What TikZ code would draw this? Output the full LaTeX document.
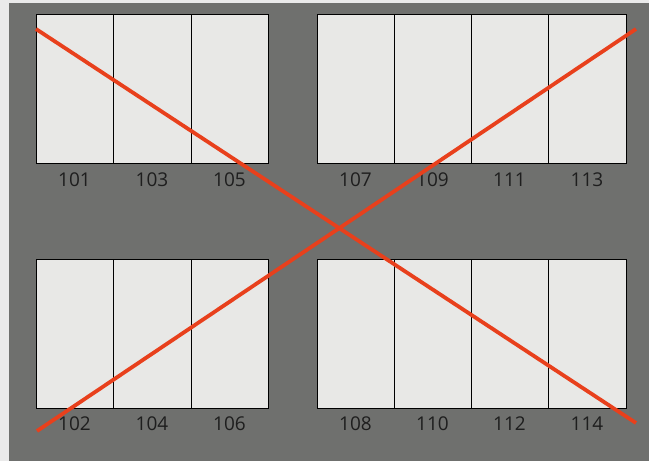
\documentclass[tikz,border=0pt]{standalone}
\usepackage{fontspec}
\setmainfont{Open Sans}
\definecolor{bgl}{HTML}{EAEAEA}
\definecolor{bgg}{HTML}{6F706E}
\definecolor{boxf}{HTML}{E8E8E6}
\definecolor{redl}{HTML}{E8401C}
\definecolor{txt}{HTML}{1E1E1E}
\tikzset{
  panel/.style={fill=boxf, draw=black, line width=0.9pt},
  divider/.style={draw=black, line width=0.9pt},
  lbl/.style={text=txt, font=\fontsize{19}{19}\selectfont, inner sep=0pt, anchor=center},
  cross/.style={draw=redl, line width=3.8pt}
}
\begin{document}
\begin{tikzpicture}[x=1pt,y=-1pt]
\useasboundingbox (0,0) rectangle (649,461);
\fill[bgl] (0,0) rectangle (649,461);
\fill[bgg] (9,3) rectangle (649,461);
% top-left
\draw[panel] (36,14) rectangle (268,163);
\draw[divider] (113,14) -- (113,163);
\draw[divider] (191,14) -- (191,163);
% top-right
\draw[panel] (317,14) rectangle (626,163);
\draw[divider] (394,14) -- (394,163);
\draw[divider] (471,14) -- (471,163);
\draw[divider] (548,14) -- (548,163);
% bottom-left
\draw[panel] (36,259) rectangle (268,408);
\draw[divider] (113,259) -- (113,408);
\draw[divider] (191,259) -- (191,408);
% bottom-right
\draw[panel] (317,259) rectangle (626,408);
\draw[divider] (394,259) -- (394,408);
\draw[divider] (471,259) -- (471,408);
\draw[divider] (548,259) -- (548,408);
% labels
\node[lbl] (l101) at (74.5,180) {101};
\node[lbl] (l103) at (152,180) {103};
\node[lbl] (l105) at (229.5,180) {105};
\node[lbl] (l107) at (355.5,180) {107};
\node[lbl] (l109) at (432.5,180) {109};
\node[lbl] (l111) at (509.5,180) {111};
\node[lbl] (l113) at (587,180) {113};
\node[lbl] (l102) at (74.5,424) {102};
\node[lbl] (l104) at (152,424) {104};
\node[lbl] (l106) at (229.5,424) {106};
\node[lbl] (l108) at (355.5,424) {108};
\node[lbl] (l110) at (432.5,424) {110};
\node[lbl] (l112) at (509.5,424) {112};
\node[lbl] (l114) at (587,424) {114};
% cross
\coordinate (a1) at (36,29);
\coordinate (a2) at (636,423);
\coordinate (b1) at (37,431);
\coordinate (b2) at (636,29);
\draw[cross] (a1) -- (a2);
\draw[cross] (b1) -- (b2);
\end{tikzpicture}
\end{document}
